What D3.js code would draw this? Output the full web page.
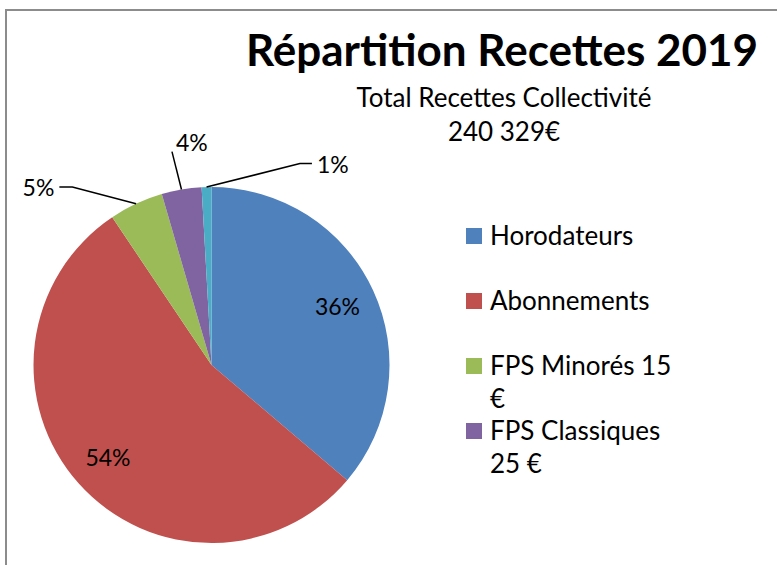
<!DOCTYPE html>
<html>
<head>
<meta charset="utf-8">
<script src="https://cdn.jsdelivr.net/npm/d3@7"></script>
<style>
  html, body { margin: 0; padding: 0; background: #fff; }
  svg { display: block; font-family: Lato, "Open Sans", sans-serif; }
</style>
</head>
<body>
<div id="chart"></div>
<script>
// Chart data
const categories = ["Horodateurs", "Abonnements", "FPS Minorés 15 €", "FPS Classiques 25 €", "Autres"];
const values = [87000, 130700, 11800, 8700, 2129];
const colors = ["#4F81BD", "#C0504D", "#9BBB59", "#8064A2", "#4BACC6"];
const title = "Répartition Recettes 2019";
const subtitle = ["Total Recettes Collectivité", "240 329€"];

const width = 777, height = 565;
const cx = 211.5, cy = 365, radius = 178;

// label placement for small slices: elbow angle (deg), elbow radius, tail length
const outsideLabels = {
    2: { angle: 322, r: 226, tail: -13 },
    3: { angle: 349.5, r: 217, tail: 0 },
    4: { angle: 23.7, r: 220, tail: 12 }
};

const svg = d3.select("#chart")
    .append("svg")
    .attr("width", width)
    .attr("height", height);

// chart frame (runs off the right/bottom of the picture)
svg.append("rect")
    .attr("x", 6)
    .attr("y", 10)
    .attr("width", 800)
    .attr("height", 600)
    .attr("fill", "none")
    .attr("stroke", "#8c8c8c")
    .attr("stroke-width", 2);

// Title
svg.append("text")
    .attr("x", 502)
    .attr("y", 66)
    .attr("text-anchor", "middle")
    .attr("font-size", "44px")
    .attr("font-weight", "bold")
    .attr("fill", "#000")
    .text(title);

svg.selectAll("text.sub")
    .data(subtitle)
    .join("text")
    .attr("class", "sub")
    .attr("x", 504)
    .attr("y", (d, i) => 107 + i * 34)
    .attr("text-anchor", "middle")
    .attr("font-size", "26px")
    .attr("fill", "#000")
    .text(d => d);

// Pie
const total = d3.sum(values);
const pie = d3.pie().sort(null).value(d => d);
const arcs = pie(values);
const arc = d3.arc().innerRadius(0).outerRadius(radius);

const g = svg.append("g").attr("transform", `translate(${cx},${cy})`);

g.selectAll("path")
    .data(arcs)
    .join("path")
    .attr("d", arc)
    .attr("fill", (d, i) => colors[i]);

const pct = v => Math.round(v / total * 100) + "%";

// labels inside the big slices
const inner = d3.arc().innerRadius(radius * 0.78).outerRadius(radius * 0.78);
g.selectAll("text.in")
    .data(arcs.filter((d, i) => !(i in outsideLabels)))
    .join("text")
    .attr("class", "in")
    .attr("x", d => inner.centroid(d)[0])
    .attr("y", d => inner.centroid(d)[1])
    .attr("dy", "0.35em")
    .attr("text-anchor", "middle")
    .attr("font-size", "23px")
    .attr("fill", "#000")
    .text(d => pct(d.value));

// outside labels with leader lines
arcs.forEach((d, i) => {
    const cfg = outsideLabels[i];
    if (!cfg) return;
    const mid = (d.startAngle + d.endAngle) / 2;
    const rim = d3.pointRadial(mid, radius);
    const elbow = d3.pointRadial(cfg.angle * Math.PI / 180, cfg.r);
    const end = [elbow[0] + cfg.tail, elbow[1]];
    g.append("path")
        .attr("d", d3.line()([rim, elbow, end]))
        .attr("fill", "none")
        .attr("stroke", "#000")
        .attr("stroke-width", 1.5);
    const dx = cfg.tail < 0 ? -5 : cfg.tail > 0 ? 5 : 4;
    g.append("text")
        .attr("x", end[0] + dx)
        .attr("y", end[1] + (cfg.tail === 0 ? -1 : 1))
        .attr("dy", cfg.tail === 0 ? 0 : "0.35em")
        .attr("text-anchor", cfg.tail < 0 ? "end" : "start")
        .attr("font-size", "23px")
        .attr("fill", "#000")
        .text(pct(d.value));
});

// Legend (only the first four entries fit in the original)
const legendX = 466, legendTop = 228, legendStep = 65, maxTextWidth = 190;
const legend = svg.append("g");
categories.slice(0, 4).forEach((name, i) => {
    const y = legendTop + i * legendStep;
    legend.append("rect")
        .attr("x", legendX)
        .attr("y", y)
        .attr("width", 16)
        .attr("height", 16)
        .attr("fill", colors[i]);
    const t = legend.append("text")
        .attr("x", legendX + 24)
        .attr("y", y + 17)
        .attr("font-size", "26px")
        .attr("fill", "#000");
    // simple word wrap
    const words = name.split(" ");
    let line = [];
    let tspan = t.append("tspan").attr("x", legendX + 24).attr("dy", 0);
    words.forEach(w => {
        line.push(w);
        tspan.text(line.join(" "));
        if (tspan.node().getComputedTextLength() > maxTextWidth && line.length > 1) {
            line.pop();
            tspan.text(line.join(" "));
            line = [w];
            tspan = t.append("tspan").attr("x", legendX + 24).attr("dy", 33).text(w);
        }
    });
});
</script>
</body>
</html>
